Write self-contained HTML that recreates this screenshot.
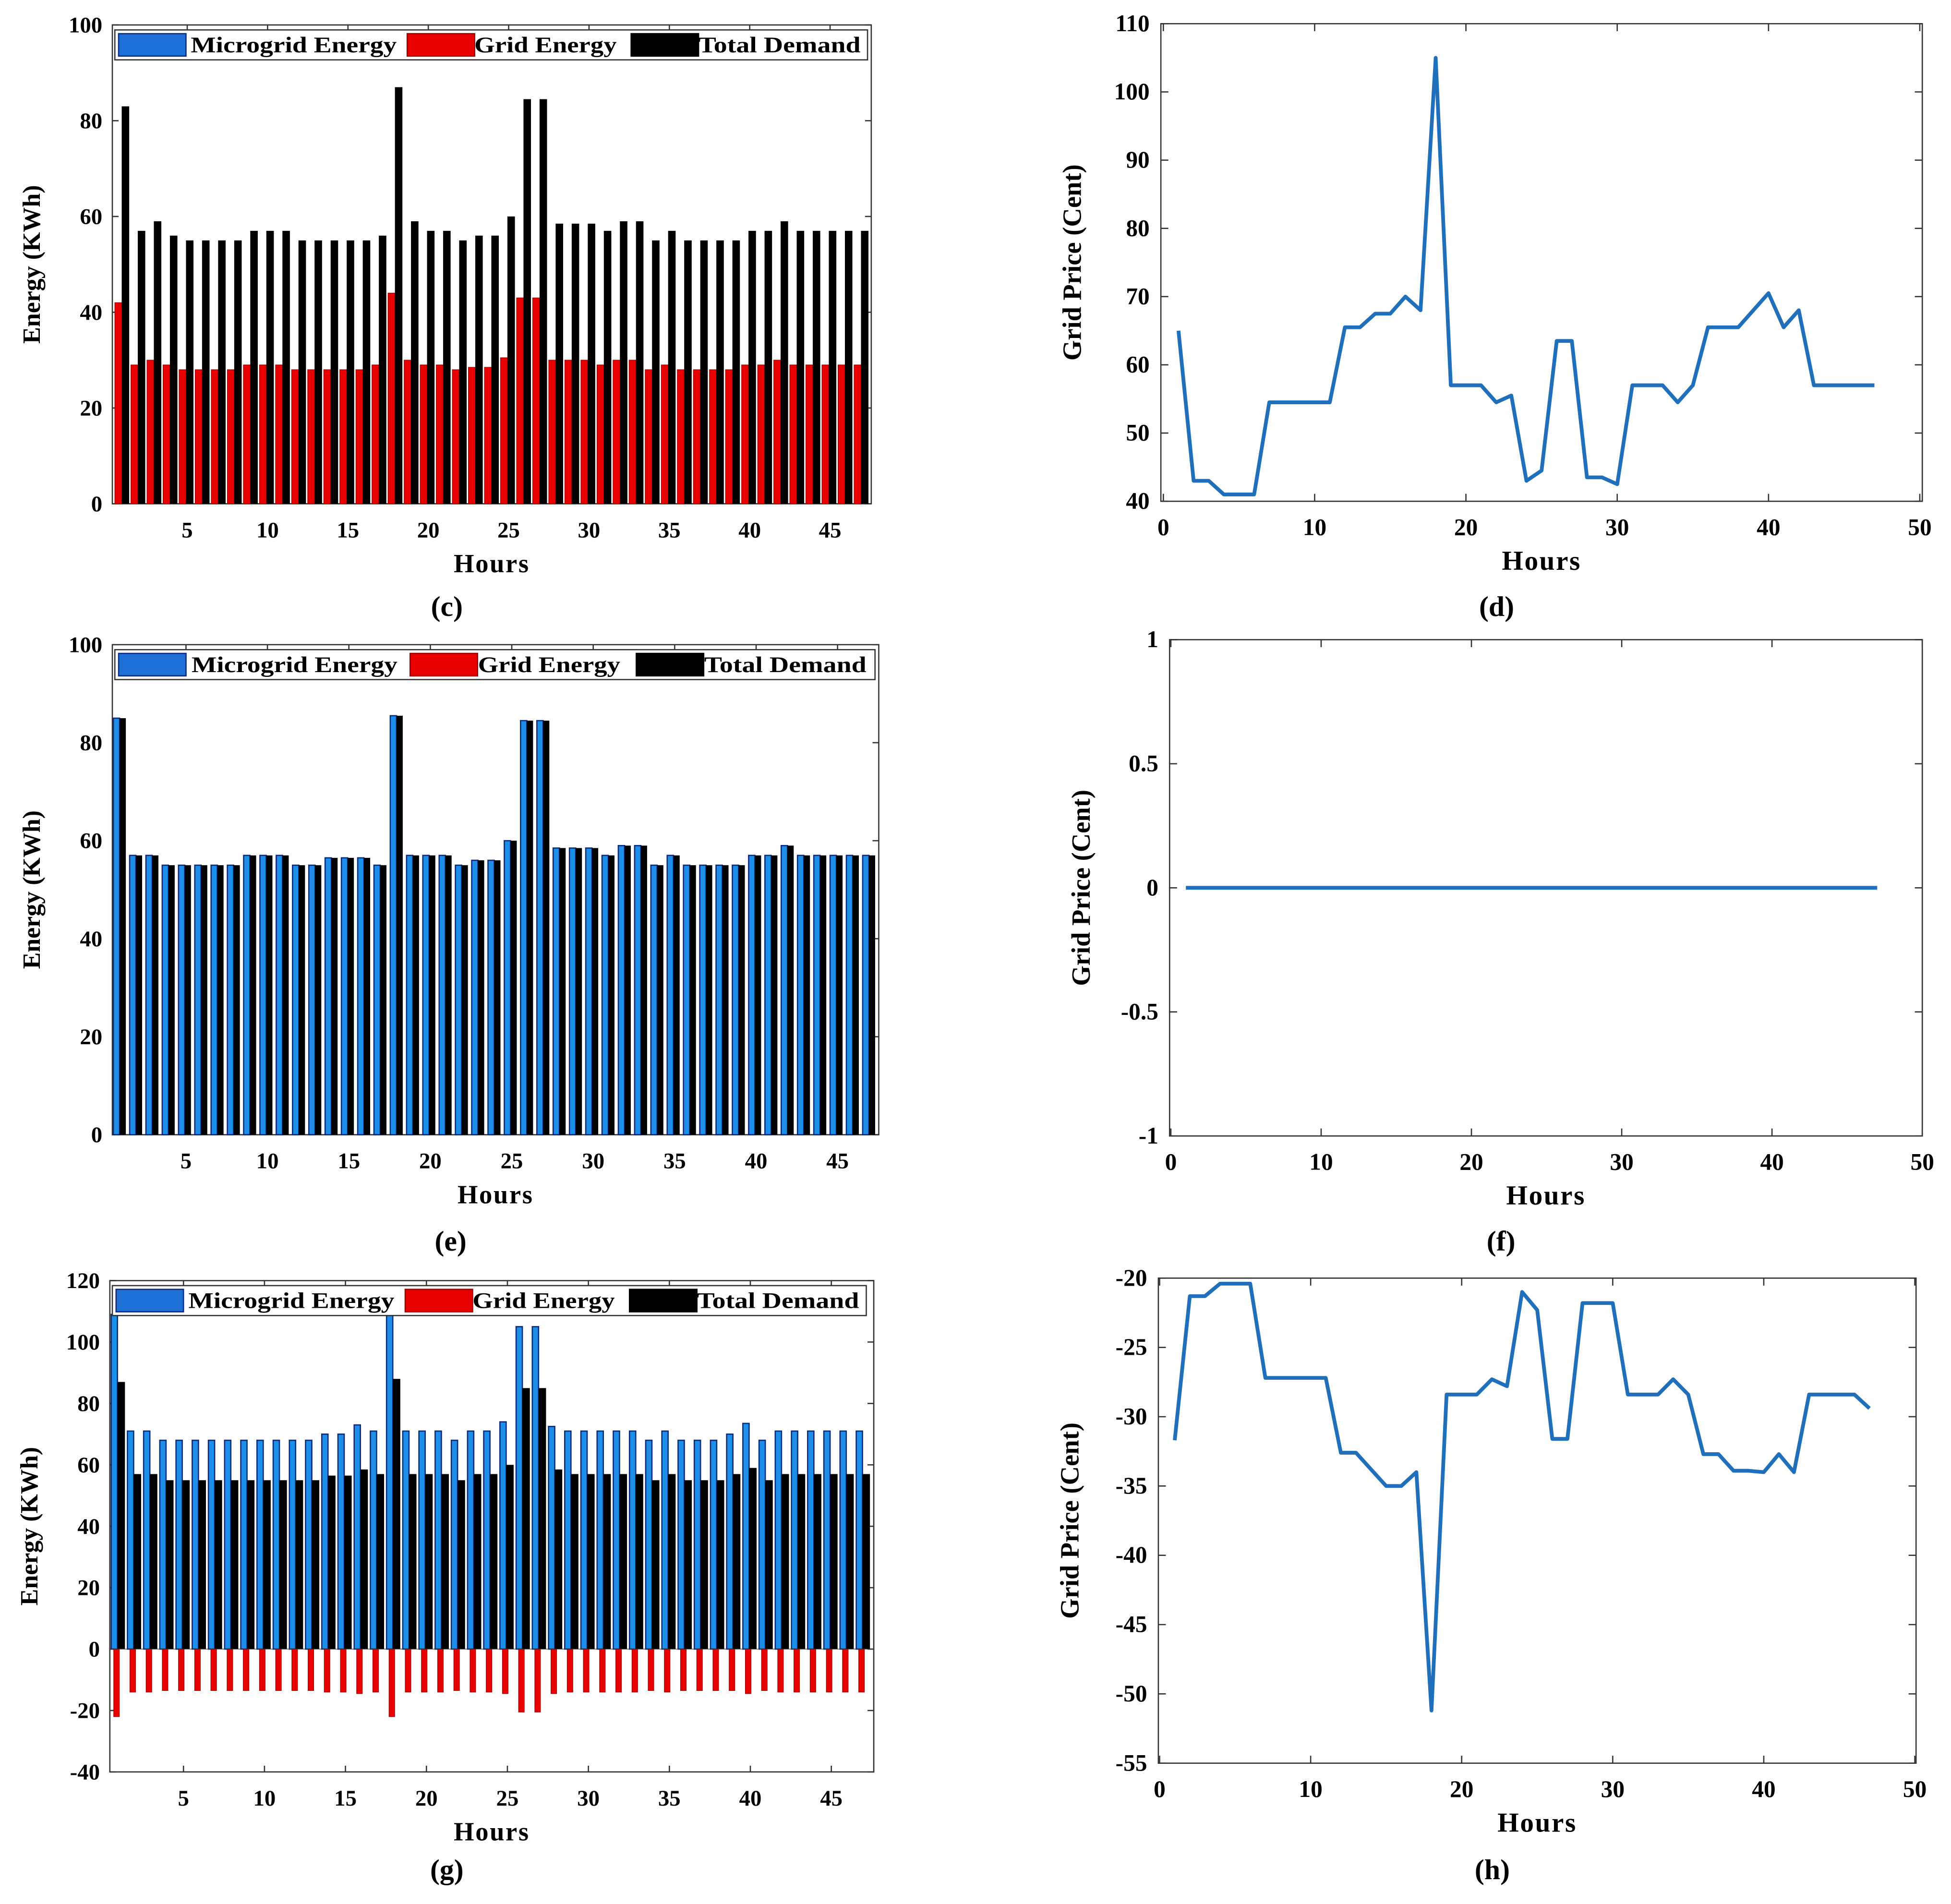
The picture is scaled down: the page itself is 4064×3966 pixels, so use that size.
<!DOCTYPE html>
<html><head><meta charset="utf-8"><style>
html,body{margin:0;padding:0;background:#fff}
svg text{font-family:"Liberation Serif","DejaVu Serif","Times New Roman",serif;font-weight:bold;fill:#000}
</style></head><body>
<svg id="s" width="4064" height="3961" viewBox="0 0 1563 1525" preserveAspectRatio="none" xmlns="http://www.w3.org/2000/svg" font-family="Liberation Serif, DejaVu Serif, serif">
</svg>
<script>
const hours=[];for(let i=1;i<=47;i++)hours.push(i);
const cGrid=[42,29,30,29,28,28,28,28,29,29,29,28,28,28,28,28,29,44,30,29,29,28,28.5,28.5,30.5,43,43,30,30,30,29,30,30,28,29,28,28,28,28,29,29,30,29,29,29,29,29];
const cDemand=[83,57,59,56,55,55,55,55,57,57,57,55,55,55,55,55,56,87,59,57,57,55,56,56,60,84.5,84.5,58.5,58.5,58.5,57,59,59,55,57,55,55,55,55,57,57,59,57,57,57,57,57];
const eMicro=[85,57,57,55,55,55,55,55,57,57,57,55,55,56.5,56.5,56.5,55,85.5,57,57,57,55,56,56,60,84.5,84.5,58.5,58.5,58.5,57,59,59,55,57,55,55,55,55,57,57,59,57,57,57,57,57];
const eDemand=[85,57,57,55,55,55,55,55,57,57,57,55,55,56.5,56.5,56.5,55,85.5,57,57,57,55,56,56,60,84.5,84.5,58.5,58.5,58.5,57,59,59,55,57,55,55,55,55,57,57,59,57,57,57,57,57];
const gMicro=[109,71,71,68,68,68,68,68,68,68,68,68,68,70,70,73,71,110,71,71,71,68,71,71,74,105,105,72.5,71,71,71,71,71,68,71,68,68,68,70,73.5,68,71,71,71,71,71,71];
const gDemand=[87,57,57,55,55,55,55,55,55,55,55,55,55,56.5,56.5,58.5,57,88,57,57,57,55,57,57,60,85,85,58.5,57,57,57,57,57,55,57,55,55,55,57,59,55,57,57,57,57,57,57];
const gGrid=[-22,-14,-14,-13.5,-13.5,-13.5,-13.5,-13.5,-13.5,-13.5,-13.5,-13.5,-13.5,-14,-14,-14.5,-14,-22,-14,-14,-14,-13.5,-14,-14,-14.5,-20.5,-20.5,-14.5,-14,-14,-14,-14,-14,-13.5,-14,-13.5,-13.5,-13.5,-13.5,-14.5,-13.5,-14,-14,-14,-14,-14,-14];
const dPrice=[65,43,43,41,41,41,54.5,54.5,54.5,54.5,54.5,65.5,65.5,67.5,67.5,70,68,105,57,57,57,54.5,55.5,43,44.5,63.5,63.5,43.5,43.5,42.5,57,57,57,54.5,57,65.5,65.5,65.5,68,70.5,65.5,68,57,57,57,57,57];
const fPrice=[0,0,0,0,0,0,0,0,0,0,0,0,0,0,0,0,0,0,0,0,0,0,0,0,0,0,0,0,0,0,0,0,0,0,0,0,0,0,0,0,0,0,0,0,0,0,0];
const hPrice=[-31.7,-21.3,-21.3,-20.4,-20.4,-20.4,-27.2,-27.2,-27.2,-27.2,-27.2,-32.6,-32.6,-33.8,-35,-35,-34,-51.2,-28.4,-28.4,-28.4,-27.3,-27.8,-21,-22.3,-31.6,-31.6,-21.8,-21.8,-21.8,-28.4,-28.4,-28.4,-27.3,-28.4,-32.7,-32.7,-33.9,-33.9,-34,-32.7,-34,-28.4,-28.4,-28.4,-28.4,-29.4];
const barTicksX=[5,10,15,20,25,30,35,40,45];
const lineTicksX=[0,10,20,30,40,50];

const S=document.getElementById('s');const NS='http://www.w3.org/2000/svg';
function el(t,a,p){const e=document.createElementNS(NS,t);for(const k in a)e.setAttribute(k,a[k]);(p||S).appendChild(e);return e;}
function txt(x,y,s,size,anchor,p,rot,ls){const e=el('text',{x:x,y:y,'font-size':size,'text-anchor':anchor||'middle'},p);if(ls)e.setAttribute('letter-spacing',ls);if(rot)e.setAttribute('transform','rotate(-90 '+x+' '+y+')');e.textContent=s;return e;}

function frame(g,L,T,R,B){el('rect',{x:L,y:T,width:R-L,height:B-T,fill:'none',stroke:'#333','stroke-width':1},g);}

function barChart(name,box,ymin,ymax,yticks,x5,x45,micro,grid,demand,cap,capY,legW){
  const g=el('g',{});
  
  
  const [L,T,R,B]=box;
  const sx=h=>x5+(h-5)*(x45-x5)/40;
  const sy=v=>B-(v-ymin)*(B-T)/(ymax-ymin);
  frame(g,L,T,R,B);
  yticks.forEach(v=>{const y=sy(v);el('line',{x1:L,x2:L+5,y1:y,y2:y,stroke:'#333'},g);el('line',{x1:R,x2:R-5,y1:y,y2:y,stroke:'#333'},g);txt(L-8,y+6,String(v),18,'end',g);});
  barTicksX.forEach(v=>{const x=sx(v);el('line',{x1:x,x2:x,y1:B,y2:B-5,stroke:'#333'},g);el('line',{x1:x,x2:x,y1:T,y2:T+5,stroke:'#333'},g);txt(x,B+27,String(v),18,'middle',g);});
  const y0=sy(0);
  hours.forEach((h,i)=>{
    const c=sx(h);
    if(micro){const v=micro[i];const r=el('rect',{x:c-6,y:Math.min(sy(v),y0),width:5,height:Math.abs(sy(v)-y0),fill:'#1e8fe8',stroke:'#0b2a7a','stroke-width':1},g);}
    if(grid){const v=grid[i];const r=el('rect',{x:c-(micro?4:6.5),y:Math.min(sy(v),y0),width:micro?4.5:5.5,height:Math.abs(sy(v)-y0),fill:'#e80000',stroke:'#a00000','stroke-width':0.5},g);}
    if(demand){const v=demand[i];const r=el('rect',{x:c-1,y:Math.min(sy(v),y0),width:micro&&!grid?5:6,height:Math.abs(sy(v)-y0),fill:'#000'},g);}
  });
  if(ymin<0)el('line',{x1:L,x2:R,y1:y0,y2:y0,stroke:'#333','stroke-width':0.5},g);
  const lg=el('g',{},g);
  
  
  const lx=L+2,ly=T+4,lh=24;
  el('rect',{x:lx,y:ly,width:legW,height:lh,fill:'#fff',stroke:'#333'},lg);
  const k=legW/605;
  const items=[['Microgrid Energy','#1e6fd6','#0b2a7a',3,61,165],['Grid Energy','#e80000','#a00000',235,289,114],['Total Demand','#000','#000',415,469,130]];
  items.forEach(it=>{el('rect',{x:lx+it[3]*k,y:ly+3,width:54,height:18,fill:it[1],stroke:it[2]},lg);const t=txt(lx+it[4]*k,ly+18,it[0],18,'start',lg);t.setAttribute('textLength',it[5]);t.setAttribute('lengthAdjust','spacingAndGlyphs');});
  txt((L+R)/2,B+55,'Hours',21,'middle',g,false,1);
  txt(L-58,(T+B)/2,'Energy (KWh)',20,'middle',g,true);
  txt((L+R)/2-36,capY,cap,23,'middle',g);
}

function lineChart(name,box,ymin,ymax,yticks,ylabels,x0,x50,data,cap,capY){
  const g=el('g',{});
  
  
  const [L,T,R,B]=box;
  const sx=h=>x0+h*(x50-x0)/50;
  const sy=v=>B-(v-ymin)*(B-T)/(ymax-ymin);
  frame(g,L,T,R,B);
  yticks.forEach((v,k)=>{const y=sy(v);el('line',{x1:L,x2:L+6,y1:y,y2:y,stroke:'#333'},g);el('line',{x1:R,x2:R-6,y1:y,y2:y,stroke:'#333'},g);txt(L-9,y+6,ylabels[k],19,'end',g);});
  lineTicksX.forEach(v=>{const x=sx(v);el('line',{x1:x,x2:x,y1:B,y2:B-6,stroke:'#333'},g);el('line',{x1:x,x2:x,y1:T,y2:T+6,stroke:'#333'},g);txt(x,B+27,String(v),19,'middle',g);});
  const pts=hours.map((h,i)=>sx(h).toFixed(2)+','+sy(data[i]).toFixed(2)).join(' ');
  const p=el('polyline',{points:pts,fill:'none',stroke:'#1f6fba','stroke-width':3,'stroke-linejoin':'round'},g);
  
  
  txt((L+R)/2,B+55,'Hours',22,'middle',g,false,1);
  txt(L-64,(T+B)/2,'Grid Price (Cent)',21,'middle',g,true);
  txt((L+R)/2-36,capY,cap,23,'middle',g);
}

barChart('chart-c',[90,20,698,404],0,100,[0,20,40,60,80,100],150,665,null,cGrid,cDemand,'(c)',494,603);
lineChart('chart-d',[930,19,1540,402],40,110,[40,50,60,70,80,90,100,110],['40','50','60','70','80','90','100','110'],932,1538,dPrice,'(d)',494);
barChart('chart-e',[90,517,704,910],0,100,[0,20,40,60,80,100],149,671,eMicro,null,eDemand,'(e)',1003,609);
lineChart('chart-f',[937,513,1540,911],-1,1,[-1,-0.5,0,0.5,1],['-1','-0.5','0','0.5','1'],938,1540,fPrice,'(f)',1003);
barChart('chart-g',[88,1027,700,1421],-40,120,[-40,-20,0,20,40,60,80,100,120],147,666,gMicro,gGrid,gDemand,'(g)',1507,604);
lineChart('chart-h',[928,1025,1535,1414],-55,-20,[-55,-50,-45,-40,-35,-30,-25,-20],['-55','-50','-45','-40','-35','-30','-25','-20'],929,1534,hPrice,'(h)',1507);
</script>
</body></html>
